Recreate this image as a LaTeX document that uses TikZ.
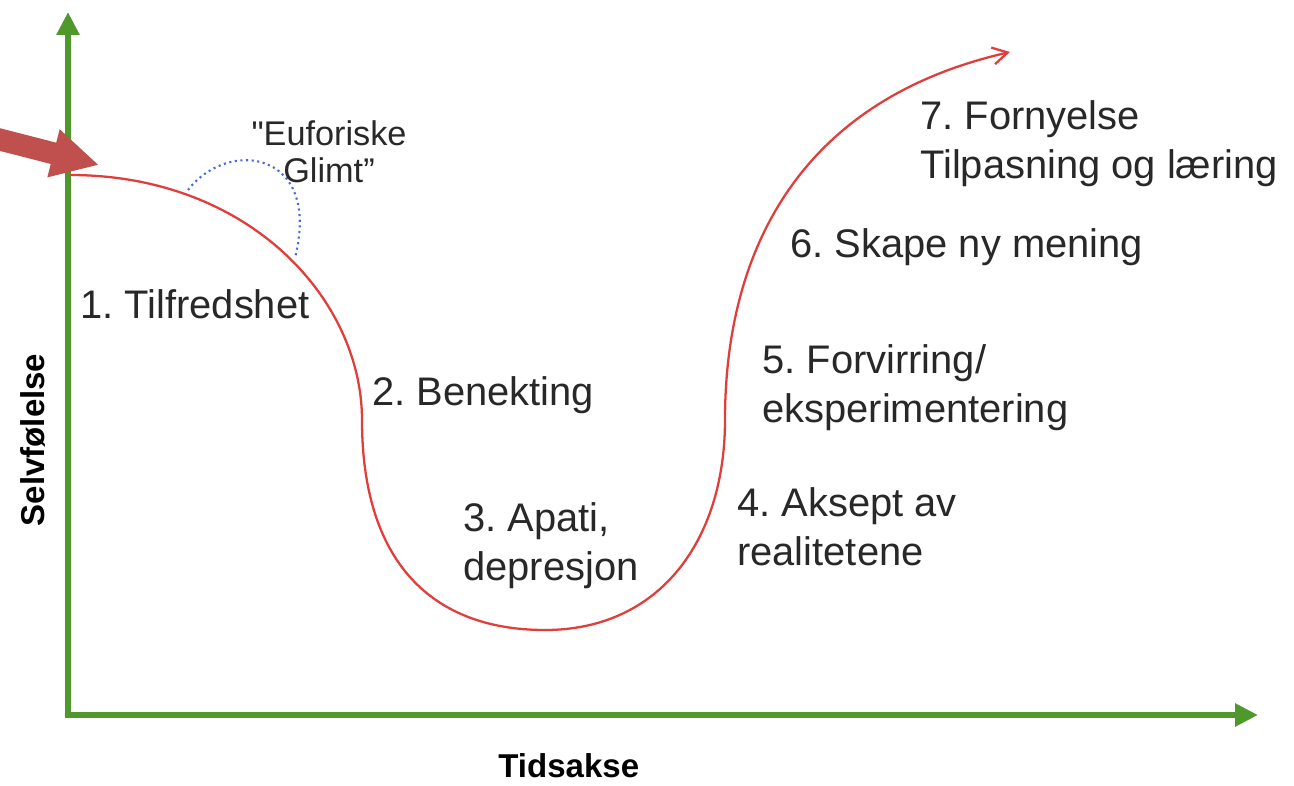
\documentclass[tikz,border=0pt]{standalone}
\usepackage{fontspec}
\setmainfont{Liberation Sans}
\usetikzlibrary{arrows.meta}
\definecolor{axisgreen}{RGB}{78,152,44}
\definecolor{curvered}{RGB}{224,62,58}
\definecolor{glimtblue}{RGB}{72,108,222}
\definecolor{markred}{RGB}{192,80,77}
\definecolor{labelgray}{RGB}{40,40,40}
\frenchspacing
\begin{document}
\begin{tikzpicture}[x=0.02cm,y=-0.02cm,
    axis/.style={axisgreen,line width=0.12cm,{Triangle[length=0.46cm,width=0.44cm]}-{Triangle[length=0.46cm,width=0.44cm]}},
    curve/.style={curvered,line width=1.3pt,-{Straight Barb[length=0.3cm,width=0.34cm]}},
    glimt/.style={glimtblue,line width=1.2pt,dotted},
    pointer/.style={markred,line width=0.44cm,-{Triangle[length=0.94cm,width=0.92cm]}},
    phase/.style={labelgray,anchor=base west,align=left,inner sep=0pt,font=\fontsize{22.7}{27.5}\selectfont},
    axislabel/.style={black,inner sep=0pt,font=\bfseries\fontsize{18.8}{22}\selectfont}]
    \useasboundingbox (0,0) rectangle (1294,785);

    \coordinate (ytop) at (68,12);
    \coordinate (origin) at (68,715);
    \coordinate (xend) at (1258,715);
    \draw[axis] (ytop) -- (origin) -- (xend);

    \coordinate (start) at (70,175);
    \coordinate (deny) at (362,420);
    \coordinate (bottom) at (545,630);
    \coordinate (accept) at (725,420);
    \coordinate (renew) at (1010,52);
    \draw[curve] (start) .. controls (250,175) and (362,300) .. (deny)
        .. controls (362,560) and (430,630) .. (bottom)
        .. controls (660,630) and (725,540) .. (accept)
        .. controls (725,250) and (800,100) .. (renew);

    \coordinate (glimtstart) at (188,190);
    \coordinate (glimtend) at (295,258);
    \draw[glimt] (glimtstart) .. controls (228,138) and (322,150) .. (glimtend);
    \node[labelgray,align=center,anchor=base,inner sep=0pt,font=\fontsize{19.5}{20.5}\selectfont] (glimtlabel) at (329,182) {\textquotedbl Euforiske\\Glimt”};

    \coordinate (pointertail) at (-10,137);
    \coordinate (pointertip) at (99,165);
    \draw[pointer] (pointertail) -- (pointertip);

    \node[phase] (tilfreds) at (80,318) {1. Tilfredshet};
    \node[phase] (benekt) at (372,405) {2. Benekting};
    \node[phase] (apati) at (463,580) {3. Apati,\\depresjon};
    \node[phase] (aksept) at (737,565) {4. Aksept av\\realitetene};
    \node[phase] (forvirr) at (762,422) {5. Forvirring/\\eksperimentering};
    \node[phase] (skape) at (790,257) {6. Skape ny mening};
    \node[phase] (fornyelse) at (920,178) {7. Fornyelse\\Tilpasning og læring};

    \node[axislabel,rotate=90] (ylabel) at (33,440) {Selvfølelse};
    \node[axislabel,anchor=base west] (xlabel) at (498,777) {Tidsakse};
\end{tikzpicture}
\end{document}
